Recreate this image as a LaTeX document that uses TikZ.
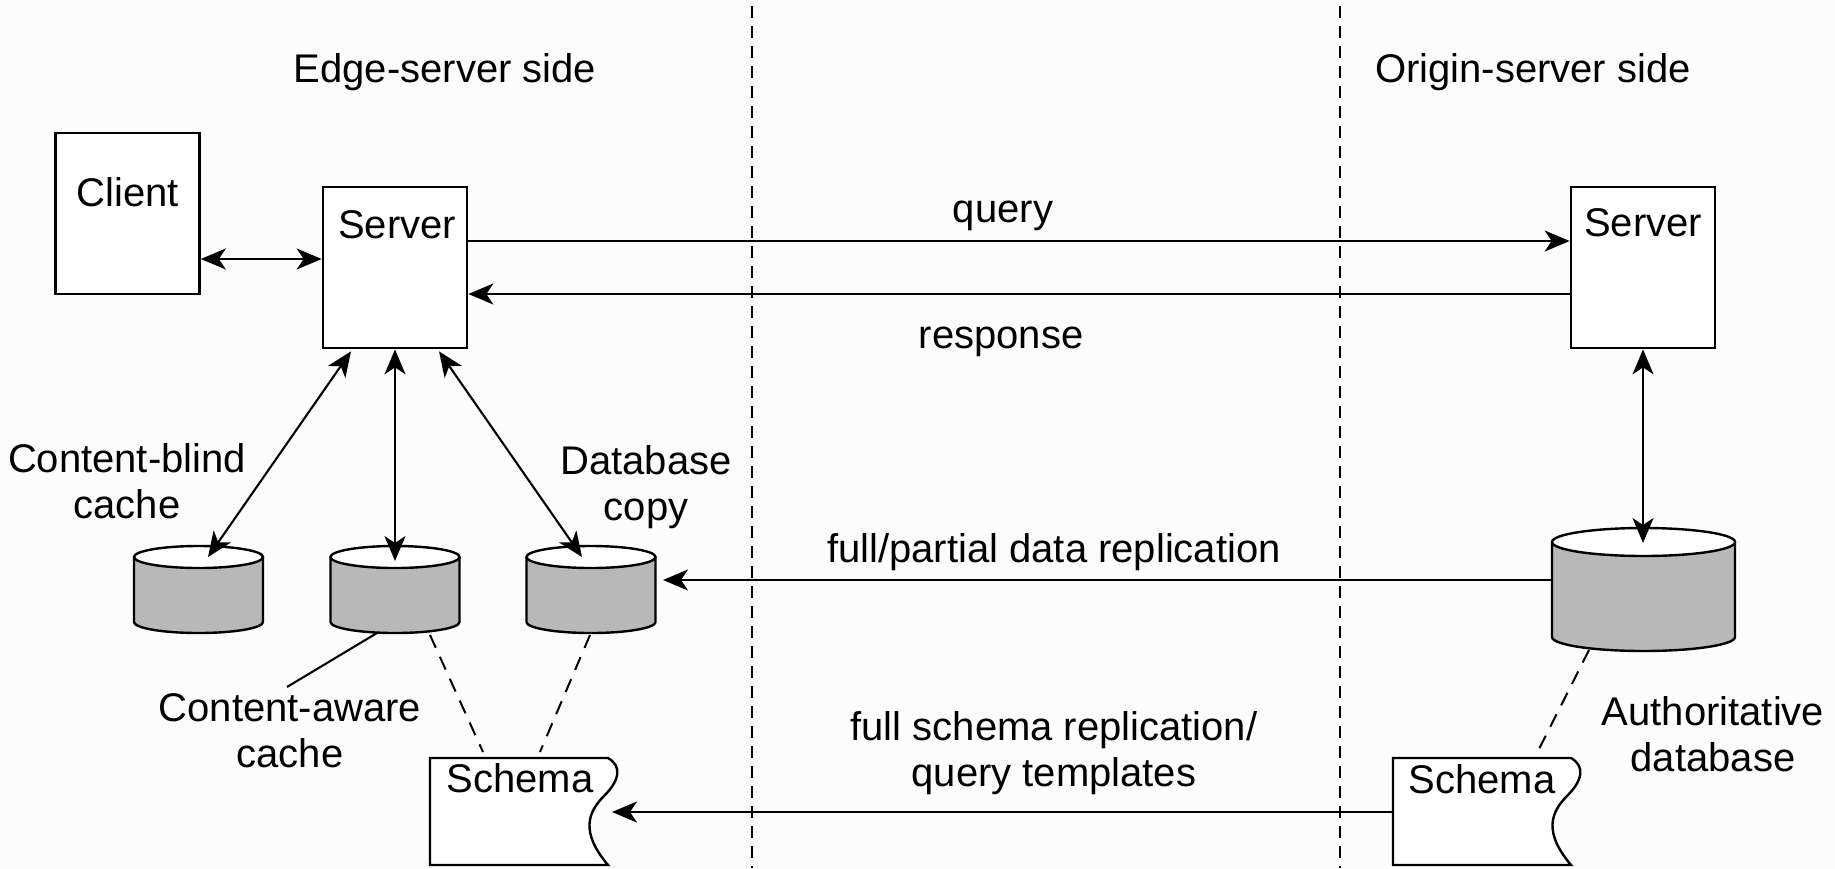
\documentclass[tikz,border=0pt]{standalone}
\usepackage{fontspec}
\setmainfont{Liberation Sans}
\usetikzlibrary{arrows.meta,calc}
\definecolor{cylgray}{RGB}{184,184,184}
\definecolor{bgcol}{RGB}{252,252,252}
\newcommand\dbcyl[5]{% cx, ytop, ybot, half width (px), ry (px)
  \fill[cylgray] ({#1-#4},#2) -- ({#1-#4},#3)
     arc[start angle=180,end angle=360,x radius=#4*0.5pt,y radius=#5*0.5pt] -- ({#1+#4},#2) -- cycle;
  \draw[cylline] ({#1-#4},#2) -- ({#1-#4},#3)
     arc[start angle=180,end angle=360,x radius=#4*0.5pt,y radius=#5*0.5pt] -- ({#1+#4},#2);
  \draw[cylline,fill=white] (#1,#2) ellipse[x radius=#4*0.5pt,y radius=#5*0.5pt];
}
\newcommand\schemashape[1]{% x offset
  \draw[cylline,fill=white] ({430+#1},758) -- ({608+#1},758)
    .. controls ({622+#1},766) and ({620+#1},780) .. ({604+#1},796)
    .. controls ({588+#1},812) and ({580+#1},832) .. ({608+#1},865)
    -- ({430+#1},865) -- cycle;
}
\begin{document}
\begin{tikzpicture}[x=0.5pt,y=-0.5pt,
  every node/.style={font=\fontsize{20pt}{23pt}\selectfont, inner sep=0pt},
  box/.style={draw, line width=1.35pt, fill=white, minimum width=72pt, minimum height=80.5pt},
  cylline/.style={line width=1.2pt},
  conn/.style={line width=1.05pt},
  tip/.style={-{Stealth[length=12.5pt,width=10.5pt,inset=3.5pt]}},
  bitip/.style={{Stealth[length=12.5pt,width=10.5pt,inset=3.5pt]}-{Stealth[length=12.5pt,width=10.5pt,inset=3.5pt]}},
  sep/.style={line width=1pt, dash pattern=on 6pt off 4pt},
  link/.style={line width=1pt, dash pattern=on 7pt off 5pt}
]
\fill[bgcol] (0,0) rectangle (1835,868);
\useasboundingbox (0,0) rectangle (1835,868);

% separators
\coordinate (sepAt) at (752,6);  \coordinate (sepAb) at (752,868);
\coordinate (sepBt) at (1340,6); \coordinate (sepBb) at (1340,868);
\draw[sep] (sepAt) -- (sepAb);
\draw[sep] (sepBt) -- (sepBb);

% headings
\node[anchor=base] (edgeT) at (445,82) {Edge-server side};
\node[anchor=base] (origT) at (1533,82) {Origin-server side};

% boxes
\node[box] (client) at (127.5,213.5) {};
\node[box] (srvE) at (395,267.5) {};
\node[box] (srvO) at (1643,267.5) {};
\node[anchor=base] (clientT) at (128,206) {Client};
\node[anchor=base] (srvET) at (397,238) {Server};
\node[anchor=base] (srvOT) at (1643,236) {Server};

% cylinders
\dbcyl{198.5}{557}{622}{64.5}{11}
\dbcyl{395}{557}{622}{64.5}{11}
\dbcyl{591}{557}{622}{64.5}{11}
\dbcyl{1643.5}{542}{637}{91.5}{14}
\coordinate (cbTop) at (208,557);
\coordinate (caTop) at (395,561);
\coordinate (dcTop) at (582,557);
\coordinate (adTop) at (1643,543);
\coordinate (caBot) at (377,633);
\coordinate (caBotR) at (430,635);
\coordinate (dcBot) at (590,635);
\coordinate (dcE) at (663,580);
\coordinate (adW) at (1552,580);
\coordinate (adBot) at (1589,650);

% schemas
\schemashape{0}
\schemashape{963}
\node[anchor=base] (sLT) at (520,792) {Schema};
\node[anchor=base] (sRT) at (1482,793) {Schema};
\coordinate (sLtop1) at (483,752);
\coordinate (sLtop2) at (540,752);
\coordinate (sRtop) at (1535,757);
\coordinate (sLe) at (612,812);
\coordinate (sRw) at (1393,812);

% connectors
\coordinate (yCS) at (0,259);
\coordinate (yQ) at (0,241);
\coordinate (yR) at (0,294);
\draw[conn,bitip] (client.east |- yCS) -- (srvE.west |- yCS);
\draw[conn,tip] (srvE.east |- yQ) -- (srvO.west |- yQ);
\draw[conn,tip] (srvO.west |- yR) -- (srvE.east |- yR);
\draw[conn,bitip] ($(srvE.south)+(-44,2)$) -- (cbTop);
\draw[conn,bitip] (srvE.south) -- (caTop);
\draw[conn,bitip] ($(srvE.south)+(44,2)$) -- (dcTop);
\draw[conn,bitip] (srvO.south) -- (adTop);
\draw[conn,tip] (adW) -- (dcE);
\draw[conn,tip] (sRw) -- (sLe);
\draw[link] (caBotR) -- (sLtop1);
\draw[link] (dcBot) -- (sLtop2);
\draw[link] (adBot) -- (sRtop);

% labels (anchor=base of a multi-line node is the last line's baseline)
\node[anchor=base] (qT) at (1003,222) {query};
\node[anchor=base] (rT) at (1001,348) {response};
\node[anchor=base,align=center] (cbT) at (127,518) {Content-blind\\cache};
\node[anchor=base,align=center] (dbcT) at (646,520) {Database\\copy};
\node[anchor=base] (fpT) at (1054,562) {full/partial data replication};
\node[anchor=base,align=center] (caT) at (290,767) {Content-aware\\cache};
\node[anchor=base,align=center] (fsT) at (1054,786) {full schema replication/\\query templates};
\node[anchor=base,align=center] (adT) at (1713,771) {Authoritative\\database};
\coordinate (caLead) at (287,687);
\draw[conn] (caBot) -- (caLead);
\end{tikzpicture}
\end{document}
